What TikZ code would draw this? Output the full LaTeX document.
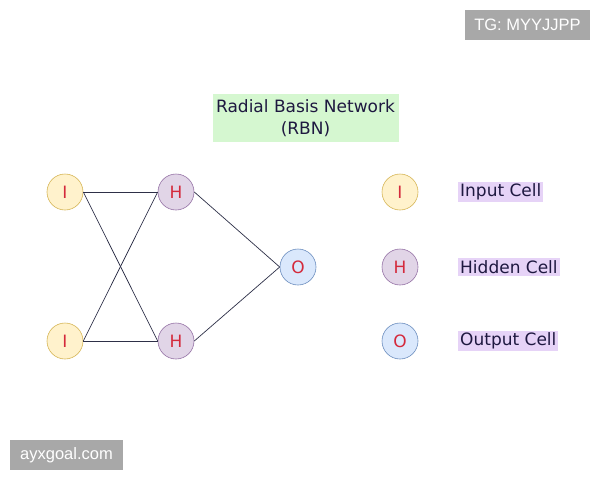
\documentclass[tikz,border=0pt]{standalone}
\usepackage{fontspec}
\setmainfont{Liberation Sans}
\newfontfamily\comicish{DejaVu Sans}
\begin{document}
\begin{tikzpicture}[x=1pt,y=-1pt,
  cell/.style={circle,minimum size=36pt,inner sep=0pt,line width=0.6pt,text=cellred,font=\comicish\fontsize{17}{17}\selectfont},
  incell/.style={cell,fill=inyel,draw=inyeld},
  hidcell/.style={cell,fill=hidpur,draw=hidpurd},
  outcell/.style={cell,fill=outblu,draw=outblud},
  link/.style={draw=linkc,line width=0.7pt},
  legend/.style={fill=legpur,text=legtext,inner sep=2pt,font=\comicish\fontsize{17}{19}\selectfont},
  wm/.style={fill=wmgray,text=white,inner sep=0pt,font=\fontsize{16.5}{16.5}\selectfont}
]
\definecolor{inyel}{HTML}{FFF2CC}
\definecolor{inyeld}{HTML}{D6B656}
\definecolor{hidpur}{HTML}{E1D5E7}
\definecolor{hidpurd}{HTML}{9673A6}
\definecolor{outblu}{HTML}{DAE8FC}
\definecolor{outblud}{HTML}{6C8EBF}
\definecolor{cellred}{HTML}{D42A3C}
\definecolor{linkc}{HTML}{2E3048}
\definecolor{legpur}{HTML}{E6D3F7}
\definecolor{legtext}{HTML}{1E1840}
\definecolor{titlegreen}{HTML}{D5F7D0}
\definecolor{wmgray}{HTML}{A8A8A8}
\useasboundingbox[fill=white] (0,0) rectangle (600,480);

% title
\node[fill=titlegreen,text=legtext,minimum width=186pt,minimum height=48pt,align=center,inner sep=0pt,
  font=\comicish\fontsize{17}{22}\selectfont] (title) at (305.5,118) {Radial Basis Network\\(RBN)};

% network
\node[incell] (i1) at (65,192) {I};
\node[incell] (i2) at (65,341) {I};
\node[hidcell] (h1) at (176,192) {H};
\node[hidcell] (h2) at (176,341) {H};
\node[outcell] (o) at (298,267) {O};

\draw[link] (i1.east) -- (h1.west);
\draw[link] (i2.east) -- (h2.west);
\draw[link] (i1.east) -- (h2.west);
\draw[link] (i2.east) -- (h1.west);
\draw[link] (h1.east) -- (o.west);
\draw[link] (h2.east) -- (o.west);

% legend
\node[incell] (li) at (400,192) {I};
\node[hidcell] (lh) at (400,267) {H};
\node[outcell] (lo) at (400,341) {O};
\node[legend,anchor=west] (lti) at (458,192) {Input Cell};
\node[legend,anchor=west] (lth) at (458,267) {Hidden Cell};
\node[legend,anchor=west] (lto) at (458,341) {Output Cell};

% watermarks
\node[wm,minimum width=125pt,minimum height=30pt] (wm1) at (527.5,25) {TG: MYYJJPP};
\node[wm,minimum width=113pt,minimum height=30pt] (wm2) at (66.5,455) {ayxgoal.com};
\end{tikzpicture}
\end{document}
